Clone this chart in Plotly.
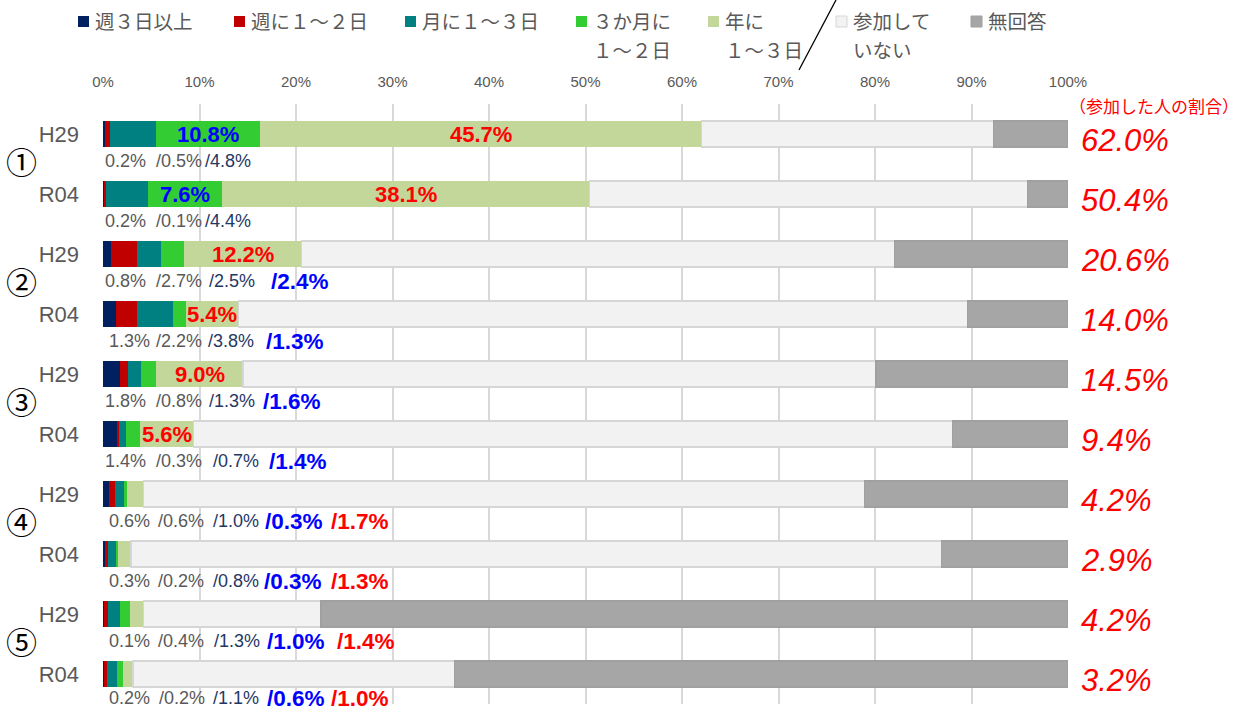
import plotly.graph_objects as go

# ---------------- data ----------------
groups = ["①", "②", "③", "④", "⑤"]
periods = ["H29", "R04", "H29", "R04", "H29", "R04", "H29", "R04", "H29", "R04"]

series_names = ["週３日以上", "週に１～２日", "月に１～３日", "３か月に１～２日",
                "年に１～３日", "参加していない", "無回答"]
weekly3 = [0.2, 0.2, 0.8, 1.3, 1.8, 1.4, 0.6, 0.3, 0.1, 0.2]
weekly12 = [0.5, 0.1, 2.7, 2.2, 0.8, 0.3, 0.6, 0.2, 0.4, 0.2]
monthly13 = [4.8, 4.4, 2.5, 3.8, 1.3, 0.7, 1.0, 0.8, 1.3, 1.1]
quarter12 = [10.8, 7.6, 2.4, 1.3, 1.6, 1.4, 0.3, 0.3, 1.0, 0.6]
yearly13 = [45.7, 38.1, 12.2, 5.4, 9.0, 5.6, 1.7, 1.3, 1.4, 1.0]
not_part = [30.3, 45.4, 61.4, 75.6, 65.6, 78.6, 74.7, 84.0, 18.4, 33.3]
no_answer = [7.7, 4.2, 18.0, 10.4, 19.9, 12.0, 21.1, 13.1, 77.4, 63.6]
participated = [62.0, 50.4, 20.6, 14.0, 14.5, 9.4, 4.2, 2.9, 4.2, 3.2]

x_ticks = [0, 10, 20, 30, 40, 50, 60, 70, 80, 90, 100]

# ---------------- styles ----------------
colors = ["#002060", "#C00000", "#008080", "#33CC33", "#C4D79B", "#F2F2F2", "#A6A6A6"]
line_colors = [None, None, None, None, None, "#D6D6D6", "#A0A0A0"]
GRAY = "#595959"
NAVY = "#1F3864"
BLUE = "#0000FF"
RED = "#FF0000"
JP = "Noto Sans CJK JP"
NUM = "Liberation Sans, Arial, sans-serif"

W, H = 1253, 711
L, R, T, B = 103, 185, 104, 7
PW = W - L - R
PH = H - T - B


def px_x(px):
    return (px - L) / PW


def px_y(py):
    return (H - B - py) / PH


ypos = list(range(len(periods)))
all_series = [weekly3, weekly12, monthly13, quarter12, yearly13, not_part, no_answer]

fig = go.Figure()
for name, vals, col, lc in zip(series_names, all_series, colors, line_colors):
    fig.add_trace(go.Bar(
        x=vals, y=ypos, orientation="h", name=name,
        marker=dict(color=col, line=dict(color=lc or col, width=1.2 if lc else 0)),
        width=0.433, showlegend=False, hoverinfo="x+name",
    ))

ann = []

# inside-bar labels (centered on their segment)
for i in range(len(periods)):
    start = weekly3[i] + weekly12[i] + monthly13[i]
    if i < 2:
        ann.append(dict(x=start + quarter12[i] / 2, y=i, xref="x", yref="y",
                        text=f"<b>{quarter12[i]:.1f}%</b>", showarrow=False,
                        font=dict(family=NUM, size=22, color=BLUE)))
    start2 = start + quarter12[i]
    if i < 6:
        ann.append(dict(x=start2 + yearly13[i] / 2, y=i, xref="x", yref="y",
                        text=f"<b>{yearly13[i]:.1f}%</b>", showarrow=False,
                        font=dict(family=NUM, size=22, color=RED)))

# labels below each bar
col1 = [103, 103, 103, 107, 103, 103, 107, 107, 107, 107]
col2 = [154, 154, 154, 154, 154, 154, 156, 156, 156, 157]
col3 = [203, 203, 207, 206, 207, 211, 211, 211, 212, 211]
col4 = [None, None, 269, 264, 261, 267, 263, 262, 265, 265]
col5 = [None, None, None, None, None, None, 329, 329, 335, 329]
row_off = [0.45] * 9 + [0.40]
for i in range(len(periods)):
    yy = i + row_off[i]
    items = [
        (col1[i], f"{weekly3[i]:.1f}%", GRAY, 18, False),
        (col2[i], f"/{weekly12[i]:.1f}%", GRAY, 18, False),
        (col3[i], f"/{monthly13[i]:.1f}%", NAVY, 18, False),
    ]
    if col4[i] is not None:
        items.append((col4[i], f"/{quarter12[i]:.1f}%", BLUE, 22.5, True))
    if col5[i] is not None:
        items.append((col5[i], f"/{yearly13[i]:.1f}%", RED, 22.5, True))
    for px, txt, c, sz, bold in items:
        ann.append(dict(x=px_x(px), y=yy, xref="paper", yref="y", xanchor="left",
                        yanchor="middle", showarrow=False,
                        text=f"<b>{txt}</b>" if bold else txt,
                        font=dict(family=NUM, size=sz, color=c)))

# participation totals on the right
for i, v in enumerate(participated):
    ann.append(dict(x=px_x(1079), y=i + 0.1, xref="paper", yref="y", xanchor="left",
                    yanchor="middle", showarrow=False, text=f"<i>{v:.1f}%</i>",
                    font=dict(family=NUM, size=31, color=RED)))
ann.append(dict(x=px_x(1067), y=px_y(106), xref="paper", yref="paper", xanchor="left",
                yanchor="middle", showarrow=False, text="（参加した人の割合）",
                font=dict(family=JP, size=17, color=RED)))

# group numbers
for k, g in enumerate(groups):
    ann.append(dict(x=px_x(21), y=2 * k + 0.44, xref="paper", yref="y", xanchor="center",
                    yanchor="middle", showarrow=False, text=g,
                    font=dict(family=JP, size=31, color="#000000")))

# legend (manual)
legend_items = [
    (78, ["週３日以上"]),
    (234, ["週に１～２日"]),
    (405, ["月に１～３日"]),
    (576, ["３か月に", "１～２日"]),
    (708, ["年に", "１～３日"]),
    (836, ["参加して", "いない"]),
    (971, ["無回答"]),
]
shapes = []
for (sx, lines), col, lc in zip(legend_items, colors, line_colors):
    shapes.append(dict(type="rect", xref="paper", yref="paper",
                       x0=px_x(sx), x1=px_x(sx + 11), y0=px_y(27), y1=px_y(16),
                       fillcolor=col, line=dict(color=lc or col, width=1 if lc else 0)))
    for li, t in enumerate(lines):
        ann.append(dict(x=px_x(sx + 15), y=px_y(21 + 28 * li), xref="paper", yref="paper",
                        xanchor="left", yanchor="middle", showarrow=False, text=t,
                        font=dict(family=JP, size=19.5, color=GRAY)))

shapes.append(dict(type="line", xref="paper", yref="paper",
                   x0=px_x(836), y0=px_y(0), x1=px_x(799), y1=px_y(70),
                   line=dict(color="#000000", width=1.3)))

fig.update_layout(
    width=W, height=H, barmode="stack",
    margin=dict(l=L, r=R, t=T, b=B, autoexpand=False),
    paper_bgcolor="white", plot_bgcolor="white",
    annotations=ann, shapes=shapes, showlegend=False,
    xaxis=dict(side="top", range=[0, 100], tickvals=x_ticks,
               ticktext=[f"{v}%" for v in x_ticks], showgrid=True,
               gridcolor="#D9D9D9", gridwidth=1.5, zeroline=False, showline=False,
               tickfont=dict(family=NUM, size=15, color=GRAY), ticklabelstandoff=13,
               fixedrange=True),
    yaxis=dict(range=[len(periods) - 0.5, -0.5], tickvals=ypos, ticktext=periods,
               showgrid=False, zeroline=False, showline=False,
               tickfont=dict(family=NUM, size=22, color=GRAY), ticklabelstandoff=23,
               fixedrange=True),
)

fig.write_html("out.html", config={"displayModeBar": False},
               post_script="document.body.style.margin='0';document.body.style.overflow='hidden';")
